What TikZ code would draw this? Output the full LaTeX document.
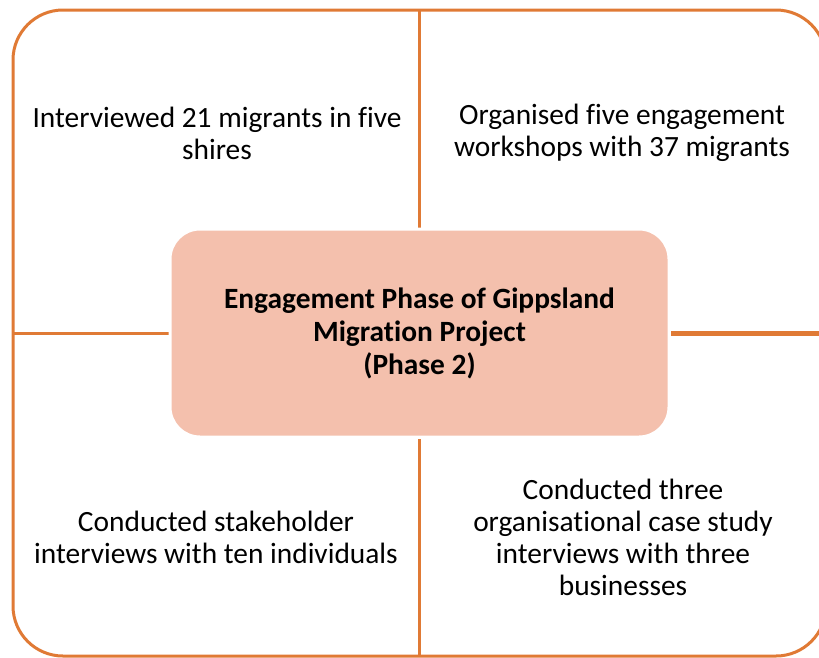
\documentclass[tikz,border=0pt]{standalone}
\usepackage{fontspec}
\setmainfont{Carlito}[Ligatures=NoCommon]
\usetikzlibrary{backgrounds}
\definecolor{edgeorange}{HTML}{E07A35}
\definecolor{peach}{HTML}{F4C0AD}
\begin{document}
\begin{tikzpicture}[x=1pt,y=-1pt,
  quadtext/.style={align=center, font=\fontsize{29.4}{32}\selectfont, inner sep=0pt, text=black},
  hub/.style={fill=peach, draw=white, line width=3pt, rounded corners=30pt,
    minimum width=499pt, minimum height=208pt, align=center,
    font=\fontsize{29.4}{33}\selectfont\bfseries},
  divider/.style={draw=edgeorange, line width=3pt},
  frame/.style={draw=edgeorange, line width=3pt, rounded corners=50pt}]
\useasboundingbox (0,0) rectangle (819,657);
\coordinate (ftop) at (419.5,10);
\coordinate (fbot) at (419.5,656);
\coordinate (fleft) at (13,333);
\coordinate (fright) at (826,333);
\node[hub] (hub) at (419.5,333) {Engagement Phase of Gippsland\\Migration Project\\(Phase 2)};
\node[quadtext] (tl) at (217,133) {Interviewed 21 migrants in five\\shires};
\node[quadtext] (tr) at (622,133) {Organised five engagement\\workshops with 37 migrants};
\node[quadtext] (bl) at (216,537) {Conducted stakeholder\\interviews with ten individuals};
\node[quadtext] (br) at (623,537) {Conducted three\\organisational case study\\interviews with three\\businesses};
\begin{scope}[on background layer]
  \clip (0,0) rectangle (819,657);
  \draw[frame] (13,10) rectangle (826,656);
  \draw[divider] (ftop) -- (hub.north);
  \draw[divider] (fbot) -- (hub.south);
  \draw[divider] (fleft) -- (hub.west);
  \draw[divider, line width=5pt] (fright) -- (hub.east);
\end{scope}
\end{tikzpicture}
\end{document}
